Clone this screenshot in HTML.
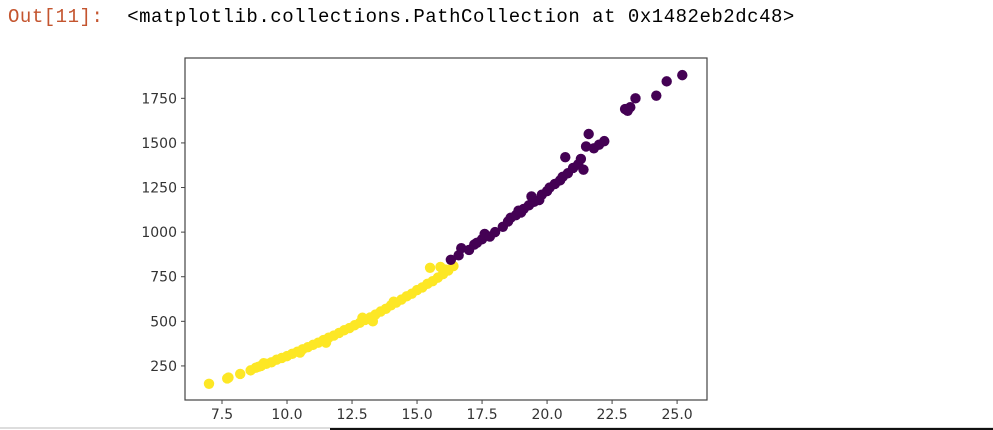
<!DOCTYPE html>
<html><head><meta charset="utf-8"><style>
body{margin:0;width:993px;height:430px;background:#fff;overflow:hidden;position:relative}
#out{position:absolute;left:8px;top:6px;font-family:"Liberation Mono",monospace;font-size:19px;letter-spacing:0.52px;color:#000;white-space:pre}
#out .p{color:#c4552f}
svg{position:absolute;left:0;top:0}
svg text{font-family:"DejaVu Sans",sans-serif;font-size:14px;fill:#333}
</style></head><body>
<div id="out"><span class="p">Out[11]:</span>  &lt;matplotlib.collections.PathCollection at 0x1482eb2dc48&gt;</div>
<svg id="chart" width="993" height="430">
<line x1="0" y1="428" x2="993" y2="428" stroke="#ddd" stroke-width="2"/>
<line x1="330" y1="429" x2="993" y2="429" stroke="#111" stroke-width="2"/>
</svg>
<script>
const yellowX=[7.0,7.7,7.75,8.2,8.6,8.8,9.0,9.2,9.4,9.6,9.8,10.0,10.2,10.4,10.6,10.8,11.0,11.2,11.4,11.6,11.8,12.0,12.2,12.4,12.6,12.8,13.0,13.2,13.4,13.6,13.8,14.0,14.2,14.4,14.6,14.8,15.0,15.2,15.4,15.6,15.8,16.0,16.2,16.4,15.5,15.9,13.3,12.9,11.5,14.1,16.1,10.5,9.1,8.9];
const yellowY=[150,180,185,205,225,240,250,262,270,285,295,305,318,330,343,355,368,380,395,408,420,435,450,462,478,492,508,522,538,555,570,590,605,622,640,655,675,690,710,725,745,765,785,810,800,805,500,520,380,610,790,325,265,245];
const purpleX=[16.3,16.6,16.7,17.0,17.2,17.5,17.6,17.8,18.0,18.3,18.5,18.6,18.8,19.0,19.1,19.3,19.5,19.7,19.8,20.0,20.1,20.3,20.5,20.6,20.7,20.8,21.0,21.2,21.3,21.4,21.5,21.6,21.8,22.0,22.2,23.0,23.1,23.2,23.4,24.2,24.6,25.2,19.4,18.9,17.3];
const purpleY=[845,870,910,900,930,960,990,975,1000,1030,1060,1080,1095,1110,1130,1150,1170,1180,1210,1230,1250,1270,1290,1310,1420,1330,1360,1380,1410,1350,1480,1550,1470,1490,1510,1690,1680,1700,1750,1765,1845,1880,1200,1120,940];
const xTicks=[7.5,10.0,12.5,15.0,17.5,20.0,22.5,25.0];
const yTicks=[250,500,750,1000,1250,1500,1750];
const L=185,R=707,T=58,B=400;
const xmin=6.077,xmax=26.15;
const ymin=59,ymax=1976;
function sx(v){return L+(v-xmin)/(xmax-xmin)*(R-L);}
function sy(v){return B-(v-ymin)/(ymax-ymin)*(B-T);}
const svg=document.getElementById('chart');
const NS='http://www.w3.org/2000/svg';
function mk(t,a){const e=document.createElementNS(NS,t);for(const k in a)e.setAttribute(k,a[k]);svg.appendChild(e);return e;}
const frame=mk('rect',{x:L,y:T,width:R-L,height:B-T,fill:'none',stroke:'#444','stroke-width':1.2});


function dots(xs,ys,c,name){for(let i=0;i<xs.length;i++){const d=mk('circle',{cx:sx(xs[i]),cy:sy(ys[i]),r:5.2,fill:c});

}}
dots(yellowX,yellowY,'#fde725','point-cluster-yellow');
dots(purpleX,purpleY,'#440154','point-cluster-purple');
xTicks.forEach(v=>{const x=sx(v);
const l=mk('line',{x1:x,y1:B,x2:x,y2:B+4,stroke:'#444'});


const t=mk('text',{x:x,y:B+19,'text-anchor':'middle'});t.textContent=v.toFixed(1);

});
yTicks.forEach(v=>{const y=sy(v);
const l=mk('line',{x1:L-4,y1:y,x2:L,y2:y,stroke:'#444'});


const t=mk('text',{x:L-8,y:y+5,'text-anchor':'end'});t.textContent=String(v);

});
</script>
</body></html>
